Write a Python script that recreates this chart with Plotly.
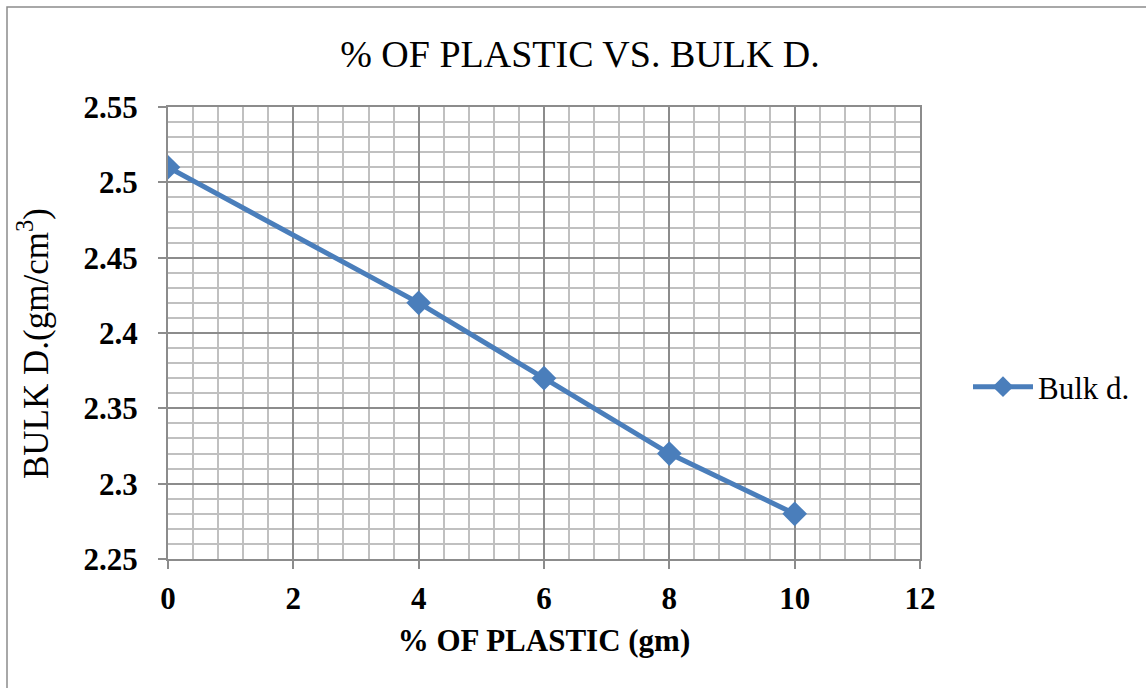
import plotly.graph_objects as go

# Bulk density against plastic content
plastic_pct = [0, 4, 6, 8, 10]
bulk_density = [2.51, 2.42, 2.37, 2.32, 2.28]

x_ticks = [0, 2, 4, 6, 8, 10, 12]
y_ticks = [2.25, 2.3, 2.35, 2.4, 2.45, 2.5, 2.55]
y_tick_text = ["2.25", "2.3", "2.35", "2.4", "2.45", "2.5", "2.55"]

SERIF = "Liberation Serif, Times New Roman, serif"
BLUE = "#4a7ebb"

fig = go.Figure()
fig.add_trace(go.Scatter(
    x=plastic_pct, y=bulk_density, mode="lines+markers", name="Bulk d.",
    line=dict(color=BLUE, width=5),
    marker=dict(symbol="diamond", size=19, color=BLUE),
))

# plot area in pixels: x 168..920, y 107..559
L, R, T, B = 168, 920, 107, 559
W, H = 1146, 688

def px(x):
    return (x - L) / (R - L)

def py(y):
    return (B - y) / (B - T)

fig.update_layout(
    width=W, height=H,
    margin=dict(l=L, r=W - R, t=T, b=H - B, autoexpand=False),
    paper_bgcolor="white", plot_bgcolor="white",
    showlegend=True,
    legend=dict(x=px(968), y=py(387), xanchor="left", yanchor="middle",
                font=dict(family=SERIF, size=31, color="black"),
                bgcolor="rgba(0,0,0,0)", itemwidth=60),
    title=dict(text="% OF PLASTIC VS. BULK D.", x=px(580), xanchor="center",
               xref="paper", y=1 - 54 / H, yanchor="middle",
               font=dict(family=SERIF, size=38, color="black")),
    xaxis=dict(
        range=[0, 12], tickvals=x_ticks, ticktext=[str(v) for v in x_ticks],
        tickfont=dict(family=SERIF, size=31, color="black", weight="bold"),
        ticklabelstandoff=3,
        showgrid=True, gridcolor="#8c8c8c", gridwidth=2,
        minor=dict(dtick=0.4, showgrid=True, gridcolor="#c0c0c0", gridwidth=2),
        ticks="outside", ticklen=8, tickwidth=2, tickcolor="#8c8c8c",
        showline=True, linecolor="#8c8c8c", linewidth=2, mirror=True,
        zeroline=False, fixedrange=True,
        title=dict(text="<b>% OF PLASTIC (gm)</b>", standoff=14,
                   font=dict(family=SERIF, size=31, color="black")),
    ),
    yaxis=dict(
        range=[2.25, 2.55], tickvals=y_ticks, ticktext=y_tick_text,
        tickfont=dict(family=SERIF, size=31, color="black", weight="bold"),
        ticklabelstandoff=14,
        showgrid=True, gridcolor="#8c8c8c", gridwidth=2,
        minor=dict(dtick=0.01, tick0=2.25, showgrid=True, gridcolor="#c0c0c0", gridwidth=2),
        ticks="outside", ticklen=8, tickwidth=2, tickcolor="#8c8c8c",
        showline=True, linecolor="#8c8c8c", linewidth=2, mirror=True,
        zeroline=False, fixedrange=True,
    ),
    annotations=[dict(text="BULK D.(gm/cm<sup>3</sup>)", textangle=-90,
                      xref="paper", yref="paper", x=px(33), y=py(344),
                      xanchor="center", yanchor="middle", showarrow=False,
                      font=dict(family=SERIF, size=35, color="black"))],
    shapes=[dict(type="rect", xref="paper", yref="paper",
                 x0=px(7), x1=px(1160), y0=py(700), y1=py(7),
                 line=dict(color="#8c8c8c", width=1.5), layer="below")],
)

fig.write_html("out.html")
